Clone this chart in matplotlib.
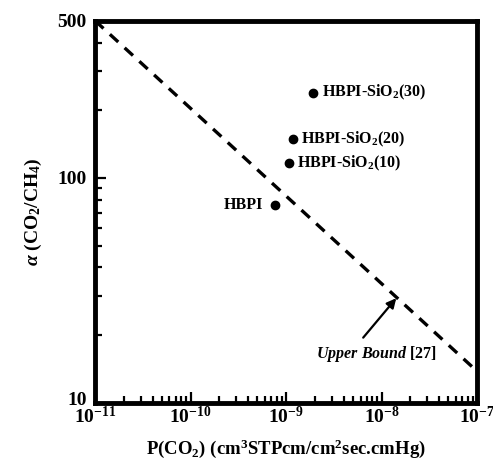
import matplotlib as mpl
import matplotlib.pyplot as plt
from matplotlib.ticker import LogLocator, FixedLocator, NullFormatter, FixedFormatter
from matplotlib.transforms import ScaledTranslation

mpl.rcParams.update({
    "font.family": "Liberation Serif",
    "font.weight": "bold",
    "mathtext.fontset": "custom",
    "mathtext.rm": "Liberation Serif:bold",
    "mathtext.it": "Liberation Serif:bold:italic",
    "mathtext.bf": "Liberation Serif:bold",
})

# membrane data
names = ["HBPI", r"HBPI-SiO$_2$(10)", r"HBPI-SiO$_2$(20)", r"HBPI-SiO$_2$(30)"]
perm_co2 = [7.7e-10, 1.07e-9, 1.18e-9, 1.92e-9]
alpha = [76, 116, 149, 239]

# Robeson upper bound endpoints
bound_p = [1e-11, 1e-7]
bound_alpha = [500, 13.8]

fig = plt.figure(figsize=(4.93, 4.62), dpi=100)
ax = fig.add_axes([0.193, 0.128, 0.775, 0.827])

ax.plot(bound_p, bound_alpha, color="black", lw=2.4, ls=(0, (3.4, 2.6)))
ax.plot(perm_co2, alpha, "o", color="black", ms=6, ls="none")

for i, (x, y, s) in enumerate(zip(perm_co2, alpha, names)):
    if i == 0:
        ax.annotate(s, (x, y), xytext=(-9, 0), textcoords="offset points",
                    ha="right", va="center", fontsize=11.5, fontweight="bold")
    else:
        ax.annotate(s, (x, y), xytext=(6, 0), textcoords="offset points",
                    ha="left", va="center", fontsize=11.5, fontweight="bold")

# arrow from the label up to the bound line
ax.annotate("", xy=(1.42e-8, 29.2), xytext=(6.4e-9, 19.5),
            arrowprops=dict(arrowstyle="-|>", color="black", lw=1.6,
                            mutation_scale=14, shrinkA=0, shrinkB=0))
ax.text(8.8e-9, 18.2, r"$\mathit{Upper\ Bound}$ [27]", ha="center", va="top",
        fontsize=11.5, fontweight="bold")

ax.set_xscale("log")
ax.set_yscale("log")
ax.set_xlim(1e-11, 1e-7)
ax.set_ylim(10, 500)

ax.xaxis.set_major_locator(LogLocator(base=10, numticks=10))
ax.xaxis.set_minor_locator(LogLocator(base=10, subs=range(2, 10), numticks=20))
ax.xaxis.set_minor_formatter(NullFormatter())

ax.yaxis.set_major_locator(FixedLocator([10, 100, 500]))
ax.yaxis.set_major_formatter(FixedFormatter(["10", "100", "500"]))
ax.yaxis.set_minor_locator(FixedLocator([20, 30, 40, 50, 60, 70, 80, 90, 200, 300, 400]))
ax.yaxis.set_minor_formatter(NullFormatter())

ax.tick_params(which="both", direction="in", width=1.6, labelsize=14)
ax.tick_params(which="major", length=8)
ax.tick_params(which="minor", length=5)
ax.tick_params(axis="x", pad=2)
ax.tick_params(axis="y", pad=6)
for sp in ax.spines.values():
    sp.set_linewidth(3.5)

ax.set_xlabel(r"P(CO$_2$) (cm$^3$STPcm/cm$^2$sec.cmHg)", fontsize=13.5,
              fontweight="bold", labelpad=8)
ax.set_ylabel(r"$\alpha$ (CO$_2$/CH$_4$)", fontsize=14, fontweight="bold",
              labelpad=10)

# lift the bottom "10" label a little, as in the original
fig.canvas.draw()
lbl = ax.yaxis.get_majorticklabels()[0]
lbl.set_transform(lbl.get_transform() + ScaledTranslation(0, 3 / 72, fig.dpi_scale_trans))

fig.savefig("out.png", dpi=100)
